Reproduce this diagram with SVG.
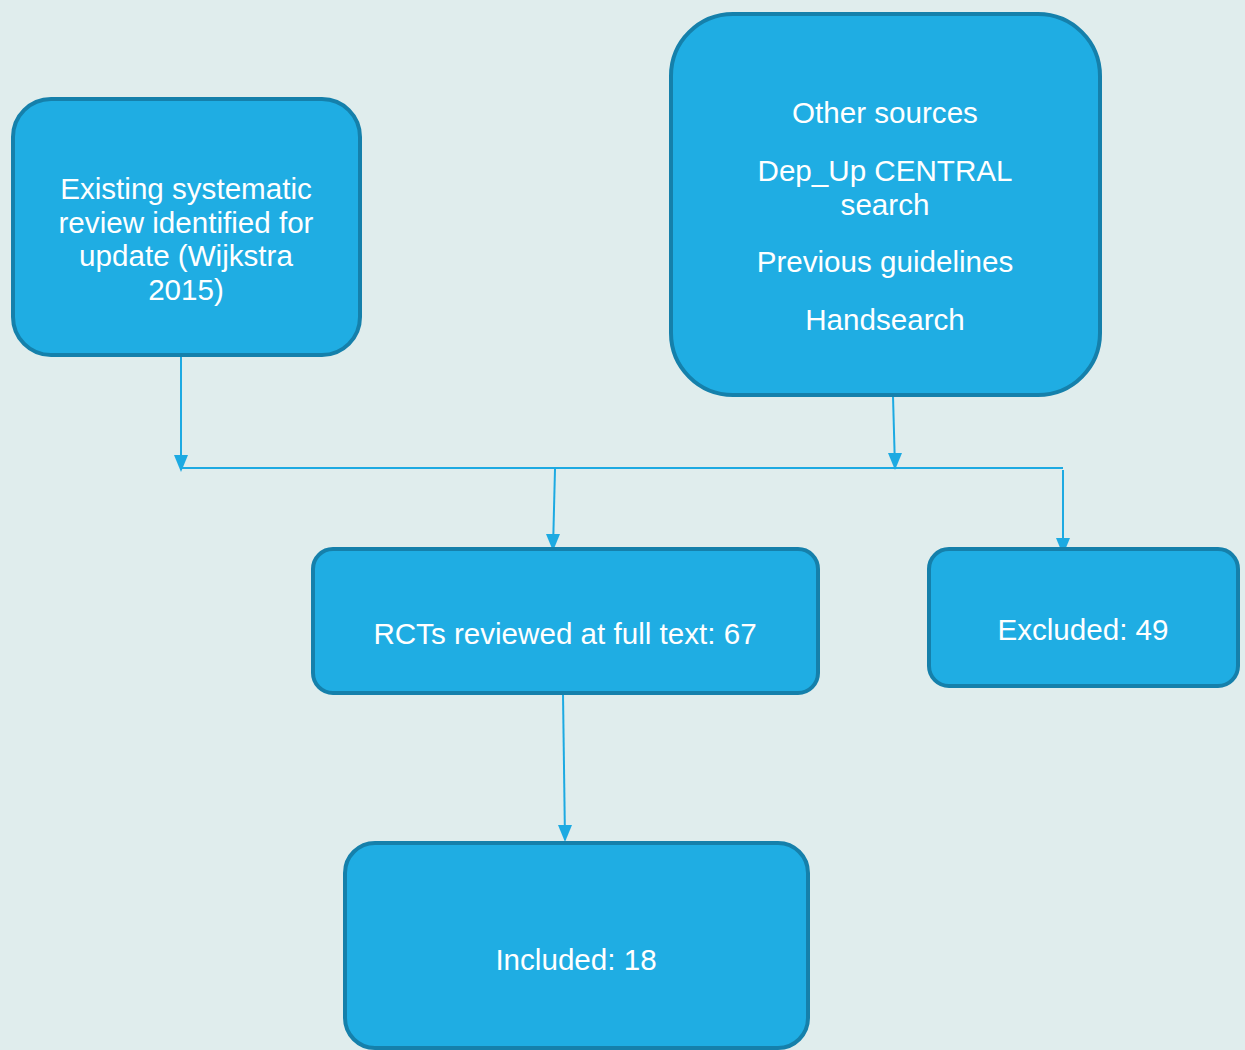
<svg xmlns="http://www.w3.org/2000/svg" width="1245" height="1050" viewBox="0 0 1245 1050">
<style>
.node{fill:#1FADE3;stroke:#1580AB;stroke-width:4}
.t{font-family:"Liberation Sans",Arial,sans-serif;font-size:29.6px;fill:#FFFFFF;text-anchor:middle}
.c{stroke:#1DAAE2;stroke-width:2;fill:none}
.ah{fill:#1DAAE2}
</style>
<rect width="1245" height="1050" fill="#E0EDED"/>
<g id="connectors">
<path class="c" d="M181,355 L181,470"/>
<path class="ah" d="M174,455 L188,455 L181,472 Z"/>
<line class="c" x1="181" y1="468" x2="1063" y2="468"/>
<path class="c" d="M893,396 L895,468"/>
<path class="ah" d="M888,453 L902,453 L895,470 Z"/>
<path class="c" d="M555,469 L553,549"/>
<path class="ah" d="M546,534 L560,534 L553,551 Z"/>
<path class="c" d="M1063,470 L1063,553"/>
<path class="ah" d="M1056,538 L1070,538 L1063,555 Z"/>
<path class="c" d="M563,694 L565,840"/>
<path class="ah" d="M558,825 L572,825 L565,842 Z"/>
</g>
<g id="node-existing">
<rect class="node" x="13" y="99" width="347" height="256" rx="38"/>
<text class="t" x="186" y="199">Existing systematic</text>
<text class="t" x="186" y="233">review identified for</text>
<text class="t" x="186" y="266">update (Wijkstra</text>
<text class="t" x="186" y="300">2015)</text>
</g>
<g id="node-other">
<rect class="node" x="671" y="14" width="429" height="381" rx="62"/>
<text class="t" x="885" y="123">Other sources</text>
<text class="t" x="885" y="181">Dep_Up CENTRAL</text>
<text class="t" x="885" y="215">search</text>
<text class="t" x="885" y="272">Previous guidelines</text>
<text class="t" x="885" y="330">Handsearch</text>
</g>
<g id="node-rcts">
<rect class="node" x="313" y="549" width="505" height="144" rx="20"/>
<text class="t" x="565" y="644">RCTs reviewed at full text: 67</text>
</g>
<g id="node-excluded">
<rect class="node" x="929" y="549" width="309" height="137" rx="20"/>
<text class="t" x="1083" y="640">Excluded: 49</text>
</g>
<g id="node-included">
<rect class="node" x="345" y="843" width="463" height="205" rx="30"/>
<text class="t" x="576" y="970">Included: 18</text>
</g>
</svg>
